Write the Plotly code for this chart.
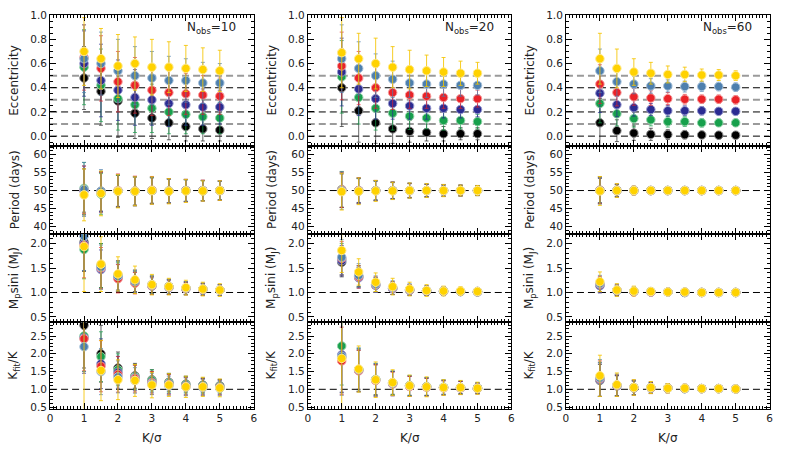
import plotly.graph_objects as go

W, H = 789, 450
OFF = 0  # body margin is removed below, so figure pixels == screen pixels

# x positions (K/sigma) and the six input eccentricities
K_SIGMA = [1.0, 1.5, 2.0, 2.5, 3.0, 3.5, 4.0, 4.5, 5.0]
E_TRUE = [0.0, 0.1, 0.2, 0.3, 0.4, 0.5]
N_OBS = [10, 20, 60]

# series order: e=0.0 black, 0.1 green, 0.2 blue, 0.3 red, 0.4 steel, 0.5 gold
# ---------------- Eccentricity ----------------
ECC_N10 = [
    [0.48, 0.37, 0.29, 0.19, 0.15, 0.11, 0.08, 0.06, 0.05],
    [0.57, 0.42, 0.31, 0.26, 0.23, 0.20, 0.18, 0.16, 0.15],
    [0.60, 0.46, 0.38, 0.32, 0.30, 0.27, 0.26, 0.24, 0.24],
    [0.65, 0.56, 0.45, 0.42, 0.38, 0.36, 0.35, 0.34, 0.33],
    [0.64, 0.60, 0.54, 0.50, 0.48, 0.46, 0.46, 0.44, 0.44],
    [0.70, 0.64, 0.58, 0.60, 0.57, 0.57, 0.56, 0.55, 0.54],
]
ECC_N10_ERR = [
    [0.26, 0.28, 0.30, 0.21, 0.17, 0.14, 0.12, 0.10, 0.09],
    [0.31, 0.30, 0.26, 0.23, 0.20, 0.18, 0.16, 0.14, 0.13],
    [0.27, 0.30, 0.25, 0.23, 0.21, 0.19, 0.17, 0.15, 0.14],
    [0.27, 0.27, 0.25, 0.23, 0.21, 0.19, 0.17, 0.16, 0.15],
    [0.28, 0.26, 0.26, 0.24, 0.22, 0.20, 0.18, 0.17, 0.16],
    [0.28, 0.25, 0.26, 0.22, 0.23, 0.21, 0.19, 0.18, 0.17],
]
ECC_N20 = [
    [0.40, 0.21, 0.11, 0.06, 0.04, 0.03, 0.02, 0.02, 0.02],
    [0.49, 0.32, 0.23, 0.19, 0.165, 0.15, 0.13, 0.13, 0.12],
    [0.53, 0.39, 0.31, 0.27, 0.25, 0.23, 0.23, 0.22, 0.22],
    [0.58, 0.48, 0.40, 0.36, 0.34, 0.33, 0.32, 0.31, 0.31],
    [0.64, 0.56, 0.50, 0.47, 0.44, 0.43, 0.43, 0.42, 0.42],
    [0.69, 0.64, 0.60, 0.57, 0.55, 0.54, 0.53, 0.52, 0.52],
]
ECC_N20_ERR = [
    [0.32, 0.26, 0.17, 0.12, 0.09, 0.07, 0.06, 0.05, 0.05],
    [0.30, 0.22, 0.18, 0.14, 0.11, 0.09, 0.08, 0.07, 0.06],
    [0.28, 0.22, 0.17, 0.13, 0.11, 0.09, 0.08, 0.07, 0.06],
    [0.28, 0.22, 0.17, 0.14, 0.11, 0.10, 0.09, 0.08, 0.07],
    [0.28, 0.22, 0.18, 0.15, 0.12, 0.11, 0.10, 0.09, 0.08],
    [0.29, 0.21, 0.21, 0.17, 0.16, 0.13, 0.12, 0.10, 0.09],
]
ECC_N60 = [
    [0.11, 0.045, 0.025, 0.015, 0.013, 0.012, 0.01, 0.008, 0.008],
    [0.27, 0.185, 0.145, 0.135, 0.12, 0.12, 0.11, 0.11, 0.11],
    [0.355, 0.26, 0.235, 0.22, 0.21, 0.21, 0.21, 0.205, 0.205],
    [0.43, 0.36, 0.325, 0.315, 0.31, 0.305, 0.305, 0.305, 0.30],
    [0.54, 0.45, 0.43, 0.415, 0.415, 0.41, 0.41, 0.41, 0.405],
    [0.64, 0.56, 0.53, 0.52, 0.51, 0.51, 0.505, 0.505, 0.50],
]
ECC_N60_ERR = [
    [0.20, 0.09, 0.06, 0.05, 0.04, 0.035, 0.03, 0.03, 0.025],
    [0.16, 0.10, 0.07, 0.05, 0.045, 0.04, 0.035, 0.03, 0.03],
    [0.16, 0.10, 0.07, 0.05, 0.045, 0.04, 0.035, 0.03, 0.03],
    [0.16, 0.11, 0.07, 0.06, 0.05, 0.04, 0.035, 0.035, 0.035],
    [0.18, 0.12, 0.08, 0.06, 0.05, 0.045, 0.04, 0.035, 0.035],
    [0.21, 0.16, 0.11, 0.09, 0.07, 0.06, 0.05, 0.045, 0.04],
]

# ---------------- Period (days) ----------------
PER_N10 = [
    [50.0, 49.8, 49.9, 49.9, 50.0, 49.9, 50.0, 50.0, 50.0],
    [50.6, 49.0, 49.8, 49.8, 50.0, 49.9, 50.0, 49.9, 50.0],
    [50.0, 49.6, 49.9, 49.8, 50.0, 49.9, 50.0, 50.0, 50.0],
    [50.2, 49.5, 50.0, 49.9, 50.1, 49.9, 50.0, 50.0, 50.0],
    [50.3, 49.8, 49.9, 49.8, 50.0, 49.9, 50.0, 50.0, 50.0],
    [48.8, 49.2, 49.8, 49.8, 50.0, 49.8, 49.9, 49.9, 50.0],
]
PER_N10_ERR = [
    [6.0, 5.5, 4.3, 3.9, 3.5, 3.3, 3.0, 2.8, 2.6],
    [7.2, 5.7, 4.4, 4.0, 3.6, 3.4, 3.0, 2.8, 2.6],
    [6.8, 5.4, 4.5, 4.0, 3.7, 3.3, 3.1, 2.8, 2.6],
    [6.6, 5.6, 4.6, 4.1, 3.8, 3.4, 3.1, 2.9, 2.7],
    [7.5, 6.0, 4.5, 4.0, 3.7, 3.3, 3.0, 2.8, 2.6],
    [7.2, 6.2, 4.6, 4.0, 3.8, 3.5, 3.2, 2.8, 2.7],
]
PER_N20 = [
    [50.0, 50.0, 50.0, 50.0, 50.0, 50.0, 50.0, 50.0, 50.0],
    [50.3, 49.9, 50.0, 50.0, 50.0, 50.0, 50.0, 50.0, 50.0],
    [50.1, 50.0, 50.0, 50.0, 50.0, 50.0, 50.0, 50.0, 50.0],
    [50.2, 50.0, 50.0, 50.0, 50.0, 50.0, 50.0, 50.0, 50.0],
    [50.0, 49.9, 50.0, 50.0, 50.0, 50.0, 50.0, 50.0, 50.0],
    [49.7, 49.8, 49.9, 49.9, 50.0, 50.0, 50.0, 50.0, 50.0],
]
PER_N20_ERR = [
    [4.6, 3.3, 2.6, 2.2, 1.9, 1.7, 1.5, 1.4, 1.3],
    [5.0, 3.5, 2.7, 2.3, 2.0, 1.8, 1.6, 1.5, 1.4],
    [4.8, 3.4, 2.7, 2.3, 2.0, 1.7, 1.6, 1.5, 1.3],
    [4.9, 3.6, 2.8, 2.4, 2.0, 1.8, 1.6, 1.5, 1.4],
    [5.2, 3.6, 2.8, 2.4, 2.1, 1.8, 1.6, 1.5, 1.4],
    [5.1, 3.7, 2.9, 2.4, 2.1, 1.9, 1.7, 1.5, 1.4],
]
PER_N60 = [
    [50.0, 50.0, 50.0, 50.0, 50.0, 50.0, 50.0, 50.0, 50.0],
    [50.1, 50.0, 50.0, 50.0, 50.0, 50.0, 50.0, 50.0, 50.0],
    [50.0, 50.0, 50.0, 50.0, 50.0, 50.0, 50.0, 50.0, 50.0],
    [50.1, 50.0, 50.0, 50.0, 50.0, 50.0, 50.0, 50.0, 50.0],
    [50.0, 50.0, 50.0, 50.0, 50.0, 50.0, 50.0, 50.0, 50.0],
    [49.9, 50.0, 50.0, 50.0, 50.0, 50.0, 50.0, 50.0, 50.0],
]
PER_N60_ERR = [
    [3.4, 1.6, 1.1, 0.8, 0.6, 0.5, 0.45, 0.4, 0.35],
    [3.6, 1.7, 1.1, 0.8, 0.7, 0.6, 0.5, 0.4, 0.35],
    [3.5, 1.7, 1.1, 0.9, 0.7, 0.6, 0.5, 0.4, 0.35],
    [3.7, 1.8, 1.2, 0.9, 0.7, 0.6, 0.5, 0.4, 0.4],
    [3.8, 1.8, 1.2, 0.9, 0.7, 0.6, 0.5, 0.45, 0.4],
    [4.0, 1.9, 1.2, 0.9, 0.7, 0.6, 0.5, 0.45, 0.4],
]

# ---------------- Msini (MJ) ----------------
MSINI_N10 = [
    [2.03, 1.55, 1.35, 1.24, 1.16, 1.12, 1.09, 1.07, 1.05],
    [1.88, 1.55, 1.32, 1.20, 1.15, 1.11, 1.08, 1.06, 1.05],
    [2.00, 1.47, 1.30, 1.21, 1.13, 1.10, 1.08, 1.06, 1.05],
    [1.96, 1.50, 1.28, 1.19, 1.14, 1.11, 1.08, 1.06, 1.05],
    [2.15, 1.52, 1.33, 1.22, 1.15, 1.12, 1.09, 1.07, 1.05],
    [1.94, 1.58, 1.38, 1.26, 1.16, 1.12, 1.10, 1.07, 1.05],
]
MSINI_N10_ERR = [
    [0.60, 0.45, 0.30, 0.22, 0.18, 0.15, 0.13, 0.12, 0.11],
    [0.60, 0.45, 0.30, 0.22, 0.18, 0.15, 0.13, 0.12, 0.11],
    [0.55, 0.40, 0.28, 0.21, 0.17, 0.14, 0.12, 0.11, 0.10],
    [0.66, 0.42, 0.29, 0.22, 0.18, 0.15, 0.13, 0.12, 0.11],
    [0.70, 0.45, 0.30, 0.23, 0.18, 0.15, 0.13, 0.12, 0.11],
    [0.92, 0.56, 0.35, 0.28, 0.21, 0.17, 0.15, 0.14, 0.13],
]
MSINI_N20 = [
    [1.62, 1.32, 1.15, 1.08, 1.05, 1.03, 1.02, 1.02, 1.01],
    [1.68, 1.33, 1.16, 1.09, 1.05, 1.04, 1.03, 1.02, 1.02],
    [1.65, 1.30, 1.15, 1.08, 1.05, 1.03, 1.02, 1.02, 1.02],
    [1.70, 1.32, 1.16, 1.09, 1.05, 1.04, 1.03, 1.02, 1.02],
    [1.72, 1.35, 1.17, 1.10, 1.06, 1.04, 1.03, 1.02, 1.02],
    [1.86, 1.42, 1.21, 1.12, 1.07, 1.04, 1.03, 1.03, 1.02],
]
MSINI_N20_ERR = [
    [0.30, 0.20, 0.14, 0.12, 0.10, 0.09, 0.08, 0.07, 0.06],
    [0.32, 0.22, 0.15, 0.13, 0.11, 0.09, 0.08, 0.07, 0.06],
    [0.31, 0.21, 0.15, 0.12, 0.10, 0.09, 0.08, 0.07, 0.06],
    [0.34, 0.23, 0.16, 0.13, 0.11, 0.10, 0.09, 0.08, 0.07],
    [0.36, 0.24, 0.17, 0.14, 0.12, 0.10, 0.09, 0.08, 0.07],
    [0.45, 0.27, 0.19, 0.17, 0.14, 0.12, 0.10, 0.09, 0.08],
]
MSINI_N60 = [
    [1.15, 1.04, 1.02, 1.01, 1.01, 1.00, 1.00, 1.00, 1.00],
    [1.16, 1.04, 1.02, 1.01, 1.01, 1.00, 1.00, 1.00, 1.00],
    [1.14, 1.04, 1.02, 1.01, 1.01, 1.00, 1.00, 1.00, 1.00],
    [1.17, 1.05, 1.02, 1.01, 1.01, 1.01, 1.00, 1.00, 1.00],
    [1.18, 1.05, 1.03, 1.02, 1.01, 1.01, 1.00, 1.00, 1.00],
    [1.22, 1.05, 1.03, 1.02, 1.01, 1.01, 1.00, 1.00, 1.00],
]
MSINI_N60_ERR = [
    [0.14, 0.10, 0.08, 0.06, 0.05, 0.04, 0.035, 0.03, 0.03],
    [0.15, 0.10, 0.08, 0.06, 0.05, 0.04, 0.035, 0.03, 0.03],
    [0.15, 0.11, 0.08, 0.06, 0.05, 0.04, 0.035, 0.03, 0.03],
    [0.16, 0.11, 0.09, 0.07, 0.05, 0.045, 0.04, 0.03, 0.03],
    [0.17, 0.12, 0.09, 0.07, 0.06, 0.045, 0.04, 0.035, 0.03],
    [0.20, 0.13, 0.10, 0.08, 0.06, 0.05, 0.04, 0.035, 0.03],
]

# ---------------- Kfit / K ----------------
KFIT_N10 = [
    [2.80, 2.00, 1.60, 1.38, 1.27, 1.20, 1.15, 1.12, 1.10],
    [2.50, 1.92, 1.55, 1.35, 1.25, 1.18, 1.13, 1.10, 1.08],
    [2.45, 1.72, 1.48, 1.32, 1.20, 1.15, 1.10, 1.08, 1.06],
    [2.42, 1.65, 1.42, 1.30, 1.18, 1.13, 1.08, 1.06, 1.05],
    [2.20, 1.50, 1.35, 1.25, 1.15, 1.10, 1.07, 1.05, 1.03],
    [3.10, 1.53, 1.27, 1.25, 1.12, 1.12, 1.07, 1.07, 1.04],
]
KFIT_N10_ERR = [
    [1.20, 0.80, 0.45, 0.35, 0.28, 0.25, 0.22, 0.20, 0.18],
    [1.00, 0.70, 0.45, 0.35, 0.30, 0.26, 0.23, 0.21, 0.19],
    [1.00, 0.70, 0.45, 0.36, 0.30, 0.27, 0.24, 0.22, 0.20],
    [0.90, 0.72, 0.50, 0.38, 0.32, 0.28, 0.25, 0.23, 0.21],
    [0.70, 0.65, 0.45, 0.36, 0.30, 0.27, 0.25, 0.23, 0.21],
    [2.70, 0.85, 0.56, 0.45, 0.36, 0.32, 0.30, 0.27, 0.25],
]
KFIT_N20 = [
    [1.90, 1.55, 1.27, 1.18, 1.10, 1.07, 1.05, 1.05, 1.03],
    [2.22, 1.55, 1.28, 1.18, 1.11, 1.08, 1.06, 1.05, 1.03],
    [1.97, 1.53, 1.26, 1.16, 1.09, 1.07, 1.05, 1.04, 1.03],
    [1.80, 1.52, 1.25, 1.15, 1.08, 1.06, 1.04, 1.04, 1.02],
    [1.93, 1.55, 1.27, 1.17, 1.10, 1.07, 1.05, 1.05, 1.03],
    [1.87, 1.57, 1.27, 1.19, 1.10, 1.07, 1.05, 1.05, 1.03],
]
KFIT_N20_ERR = [
    [1.00, 0.55, 0.42, 0.32, 0.27, 0.24, 0.19, 0.17, 0.14],
    [1.10, 0.60, 0.45, 0.33, 0.28, 0.25, 0.20, 0.18, 0.15],
    [1.05, 0.60, 0.45, 0.34, 0.28, 0.25, 0.21, 0.18, 0.15],
    [0.95, 0.58, 0.44, 0.33, 0.28, 0.25, 0.20, 0.18, 0.15],
    [1.10, 0.62, 0.46, 0.35, 0.29, 0.26, 0.21, 0.19, 0.16],
    [1.45, 0.65, 0.50, 0.36, 0.30, 0.28, 0.22, 0.20, 0.17],
]
KFIT_N60 = [
    [1.25, 1.10, 1.04, 1.04, 1.03, 1.02, 1.02, 1.02, 1.01],
    [1.28, 1.11, 1.05, 1.04, 1.03, 1.02, 1.02, 1.02, 1.01],
    [1.27, 1.10, 1.04, 1.04, 1.03, 1.02, 1.02, 1.02, 1.01],
    [1.30, 1.11, 1.05, 1.04, 1.03, 1.03, 1.02, 1.02, 1.01],
    [1.32, 1.12, 1.05, 1.05, 1.03, 1.03, 1.02, 1.02, 1.01],
    [1.38, 1.13, 1.05, 1.05, 1.03, 1.03, 1.02, 1.02, 1.01],
]
KFIT_N60_ERR = [
    [0.45, 0.28, 0.19, 0.15, 0.12, 0.10, 0.08, 0.07, 0.06],
    [0.48, 0.29, 0.20, 0.15, 0.12, 0.10, 0.08, 0.07, 0.06],
    [0.47, 0.29, 0.20, 0.15, 0.12, 0.10, 0.08, 0.07, 0.06],
    [0.50, 0.30, 0.21, 0.16, 0.13, 0.11, 0.09, 0.08, 0.07],
    [0.52, 0.31, 0.21, 0.16, 0.13, 0.11, 0.09, 0.08, 0.07],
    [0.58, 0.33, 0.22, 0.17, 0.13, 0.11, 0.09, 0.08, 0.07],
]

# ---------------------------------------------------------
# style
# ---------------------------------------------------------
COLORS = ["#000000", "#17a04c", "#2b2c92", "#ea2228", "#4d7fae", "#ffd200"]
EDGES = ["#8a8a8a", "#8fd2a6", "#9597cc", "#f59a9a", "#a5c0da", "#ffe98a"]
ERRC = ["rgba(40,40,40,0.7)", "rgba(23,160,76,0.7)", "rgba(43,44,146,0.7)",
        "rgba(234,34,40,0.65)", "rgba(77,127,174,0.7)", "rgba(245,196,0,0.85)"]

FONT = "DejaVu Sans"
TICK_FONT = dict(family=FONT, size=10.5, color="#222")

# pixel boxes of the panels (screen pixels)
COL_X = [(47.5, 253.0), (307.5, 513.0), (568.0, 773.5)]
ROW_Y = [(9.0, 143.0), (143.0, 233.0), (233.0, 323.0), (323.0, 412.0)]

ROW_RANGE = [[-0.08, 1.003], [38.0, 62.4], [0.4, 2.2], [0.45, 2.9]]
ROW_DTICK = [0.2, 5, 0.5, 0.5]
ROW_MINOR = [0.05, 1, 0.1, 0.1]
ROW_FMT = [".1f", "d", ".1f", ".1f"]
ROW_TITLE = ["Eccentricity", "Period (days)",
             "M<sub>p</sub>sini (M<sub>J</sub>)", "K<sub>fit</sub>/K"]
ROW_REF_BLACK = [[0.0, 0.2, 0.4], [50.0], [1.0], [1.0]]
ROW_REF_GRAY = [[0.1, 0.3, 0.5], [], [], []]

PANELS = [
    [(ECC_N10, ECC_N10_ERR), (ECC_N20, ECC_N20_ERR), (ECC_N60, ECC_N60_ERR)],
    [(PER_N10, PER_N10_ERR), (PER_N20, PER_N20_ERR), (PER_N60, PER_N60_ERR)],
    [(MSINI_N10, MSINI_N10_ERR), (MSINI_N20, MSINI_N20_ERR), (MSINI_N60, MSINI_N60_ERR)],
    [(KFIT_N10, KFIT_N10_ERR), (KFIT_N20, KFIT_N20_ERR), (KFIT_N60, KFIT_N60_ERR)],
]


def px(x):
    return (x - OFF) / W


def py(y):
    return 1 - (y - OFF) / H


fig = go.Figure()
layout = dict(
    width=W, height=H,
    margin=dict(l=0, r=0, t=0, b=0),
    paper_bgcolor="white", plot_bgcolor="white",
    showlegend=False, hovermode=False,
    font=dict(family=FONT, color="#222"),
)
shapes = []
annotations = []

for r in range(4):
    for c in range(3):
        k = r * 3 + c + 1
        xs = "" if k == 1 else str(k)
        x0, x1 = COL_X[c]
        y0, y1 = ROW_Y[r]

        layout["xaxis" + xs] = dict(
            domain=[px(x0), px(x1)], anchor="y" + xs,
            range=[0, 6], dtick=1, tick0=0,
            ticks="inside", ticklen=6, tickwidth=1, tickcolor="black",
            minor=dict(dtick=0.1, ticks="inside", ticklen=3, tickcolor="black"),
            showline=True, linecolor="black", linewidth=1, mirror="allticks",
            showgrid=False, zeroline=False,
            showticklabels=(r == 3), tickfont=TICK_FONT,
        )
        layout["yaxis" + xs] = dict(
            domain=[py(y1), py(y0)], anchor="x" + xs,
            range=ROW_RANGE[r], dtick=ROW_DTICK[r], tick0=0, tickformat=ROW_FMT[r],
            ticks="inside", ticklen=6, tickwidth=1, tickcolor="black",
            minor=dict(dtick=ROW_MINOR[r], ticks="inside", ticklen=3, tickcolor="black"),
            showline=True, linecolor="black", linewidth=1, mirror="allticks",
            showgrid=False, zeroline=False, tickfont=TICK_FONT,
        )

        # reference levels
        for lvl in ROW_REF_GRAY[r]:
            shapes.append(dict(type="line", xref="x" + xs, yref="y" + xs,
                               x0=0, x1=6, y0=lvl, y1=lvl, layer="below",
                               line=dict(color="#9a9a9a", width=2, dash="7px,4px")))
        for lvl in ROW_REF_BLACK[r]:
            shapes.append(dict(type="line", xref="x" + xs, yref="y" + xs,
                               x0=0, x1=6, y0=lvl, y1=lvl, layer="below",
                               line=dict(color="black", width=1, dash="7px,4px")))

        vals, errs = PANELS[r][c]
        for i in range(len(E_TRUE)):
            fig.add_trace(go.Scatter(
                x=K_SIGMA, y=vals[i],
                xaxis="x" + xs, yaxis="y" + xs,
                mode="markers",
                marker=dict(size=8.5, color=COLORS[i],
                            line=dict(width=1, color=EDGES[i])),
                error_y=dict(type="data", array=errs[i], color=ERRC[i],
                             thickness=1, width=2),
                name="e=%.1f" % E_TRUE[i],
            ))

        # y-axis title
        annotations.append(dict(
            text=ROW_TITLE[r], textangle=-90,
            x=px(x0 - 36), y=py((y0 + y1) / 2),
            xref="paper", yref="paper", xanchor="center", yanchor="middle",
            showarrow=False, font=dict(family=FONT, size=12, color="#222"),
        ))

# Nobs labels and x titles
for c in range(3):
    x0, x1 = COL_X[c]
    annotations.append(dict(
        text="N<sub>obs</sub>=%d" % N_OBS[c],
        x=px(x1 - 16), y=py(22),
        xref="paper", yref="paper", xanchor="right", yanchor="middle",
        showarrow=False, font=dict(family=FONT, size=12, color="#222"),
    ))
    annotations.append(dict(
        text="K/σ",
        x=px((x0 + x1) / 2), y=py(442),
        xref="paper", yref="paper", xanchor="center", yanchor="middle",
        showarrow=False, font=dict(family=FONT, size=12, color="#222"),
    ))

layout["shapes"] = shapes
layout["annotations"] = annotations
fig.update_layout(**layout)

fig.write_html("out.html", config={"displayModeBar": False},
               post_script="document.body.style.margin='0px';")
